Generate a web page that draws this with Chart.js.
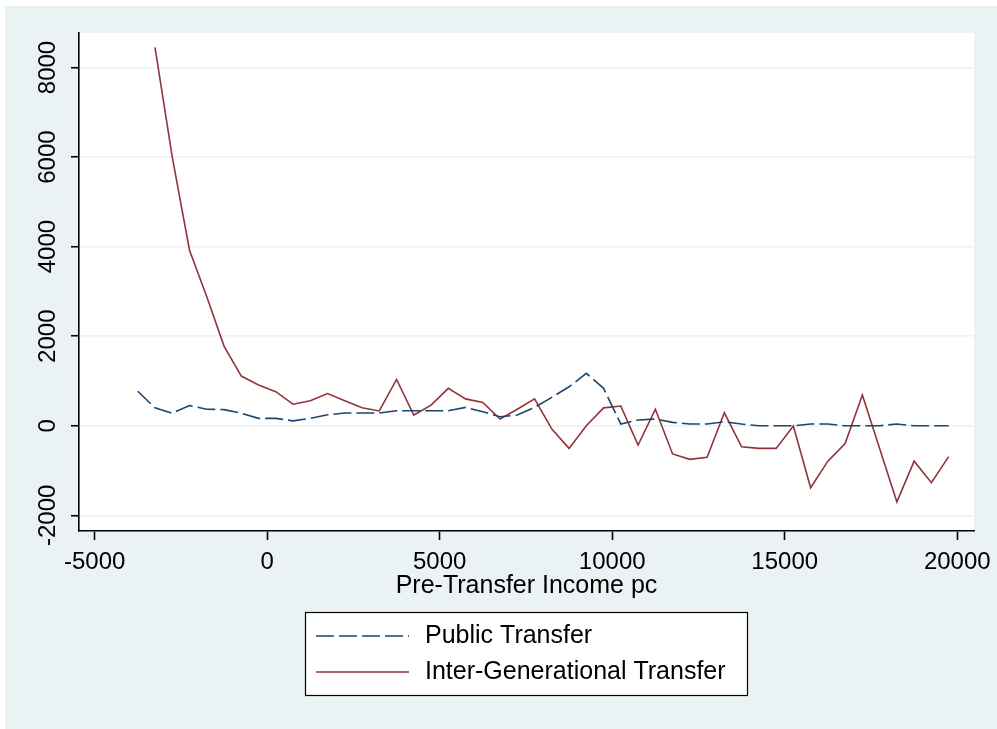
<!DOCTYPE html>
<html>
<head>
<meta charset="utf-8">
<script src="https://cdn.jsdelivr.net/npm/chart.js@4/dist/chart.umd.min.js"></script>
<style>
  html, body { margin: 0; padding: 0; background: #ffffff; }
  canvas { display: block; }
</style>
</head>
<body>
<canvas id="c" width="997" height="729"></canvas>
<script>
// ---- data ----
const incomeBins = [-3750, -3250, -2750, -2250, -1750, -1250, -750, -250,
  250, 750, 1250, 1750, 2250, 2750, 3250, 3750, 4250, 4750,
  5250, 5750, 6250, 6750, 7250, 7750, 8250, 8750, 9250, 9750,
  10250, 10750, 11250, 11750, 12250, 12750, 13250, 13750, 14250, 14750,
  15250, 15750, 16250, 16750, 17250, 17750, 18250, 18750, 19250, 19750];

const publicTransfer = [770, 400, 280, 450, 370, 360, 280, 165,
  165, 110, 165, 245, 285, 285, 285, 335, 335, 335,
  335, 410, 313, 200, 240, 410, 635, 870, 1170, 835,
  40, 127, 150, 76, 38, 38, 89, 38, 0, 0,
  0, 38, 38, 0, 0, 0, 38, 0, 0, 0];

const interGenTransfer = [null, 8450, 6000, 3920, 2880, 1780, 1110, 910,
  760, 480, 560, 720, 560, 400, 330, 1035, 240, 460,
  835, 600, 520, 150, 370, 600, -75, -505, 0, 400,
  440, -430, 370, -630, -750, -705, 290, -470, -505, -505,
  -5, -1385, -790, -395, 685, -510, -1700, -790, -1270, -690];

const xTickValues = [-5000, 0, 5000, 10000, 15000, 20000];
const yTickValues = [-2000, 0, 2000, 4000, 6000, 8000];

const seriesLabels = ['Public Transfer', 'Inter-Generational Transfer'];
const xAxisTitle = 'Pre-Transfer Income pc';

// ---- styling ----
const NAVY = '#1A476F';
const MAROON = '#90353B';
const BG = '#EAF2F3';
const FONT = "'Liberation Sans', Arial, sans-serif";

const toPoints = (ys) => incomeBins.map((x, i) => ({ x: x, y: ys[i] }));
const plainLabel = (v) => String(v);

const bgPlugin = {
  id: 'bgPlugin',
  beforeDraw(chart) {
    const { ctx, chartArea: a, width, height } = chart;
    ctx.save();
    ctx.fillStyle = '#ffffff';
    ctx.fillRect(0, 0, width, height);
    ctx.fillStyle = BG;
    ctx.fillRect(5, 6, width - 5, height - 6);
    ctx.fillStyle = '#ffffff';
    ctx.fillRect(a.left, a.top, a.right - a.left, a.bottom - a.top);
    ctx.restore();
  }
};

const legendPlugin = {
  id: 'boxLegend',
  afterDraw(chart) {
    const { ctx } = chart;
    const bx = 305, by = 612, bw = 442, bh = 83;
    ctx.save();
    ctx.fillStyle = '#ffffff';
    ctx.fillRect(bx, by, bw, bh);
    ctx.strokeStyle = '#000000';
    ctx.lineWidth = 1.2;
    ctx.strokeRect(bx + 0.5, by + 0.5, bw, bh);
    const rows = [636, 672];
    chart.data.datasets.forEach((ds, i) => {
      const y = rows[i];
      ctx.beginPath();
      ctx.strokeStyle = ds.borderColor;
      ctx.lineWidth = ds.borderWidth;
      ctx.setLineDash(ds.borderDash || []);
      ctx.moveTo(316, y);
      ctx.lineTo(409, y);
      ctx.stroke();
      ctx.setLineDash([]);
      ctx.fillStyle = '#000000';
      ctx.font = '25px ' + FONT;
      ctx.textBaseline = 'middle';
      ctx.textAlign = 'left';
      ctx.fillText(ds.label, 425, y);
    });
    ctx.restore();
  }
};

new Chart(document.getElementById('c'), {
  type: 'line',
  data: {
    datasets: [
      {
        label: seriesLabels[0],
        data: toPoints(publicTransfer),
        borderColor: NAVY,
        borderWidth: 1.6,
        borderDash: [18, 5],
        pointRadius: 0,
        fill: false,
        tension: 0
      },
      {
        label: seriesLabels[1],
        data: toPoints(interGenTransfer),
        borderColor: MAROON,
        borderWidth: 1.6,
        pointRadius: 0,
        fill: false,
        tension: 0
      }
    ]
  },
  options: {
    responsive: false,
    devicePixelRatio: 1,
    animation: false,
    layout: { padding: { left: 0, top: 33, right: 23, bottom: 0 } },
    plugins: {
      legend: { display: false },
      tooltip: { enabled: false },
      title: { display: false }
    },
    scales: {
      x: {
        type: 'linear',
        position: 'bottom',
        min: -5453,
        max: 20485,
        afterBuildTicks: (s) => { s.ticks = xTickValues.map(v => ({ value: v })); },
        afterFit: (s) => { s.height = 198; s.paddingLeft = 0; s.paddingRight = 0; },
        border: { display: true, color: '#000000', width: 1.6 },
        grid: { drawOnChartArea: false, drawTicks: true, tickLength: 9, tickColor: '#000000', tickWidth: 1.6 },
        ticks: {
          color: '#000000',
          font: { family: FONT, size: 24 },
          padding: 8,
          maxRotation: 0,
          minRotation: 0,
          autoSkip: false,
          callback: plainLabel
        },
        title: {
          display: true,
          text: xAxisTitle,
          color: '#000000',
          font: { family: FONT, size: 25 },
          padding: { top: 0, bottom: 128 }
        }
      },
      y: {
        type: 'linear',
        position: 'left',
        min: -2350,
        max: 8770,
        afterBuildTicks: (s) => { s.ticks = yTickValues.map(v => ({ value: v })); },
        afterFit: (s) => { s.width = 79; s.paddingTop = 0; s.paddingBottom = 0; },
        border: { display: true, color: '#000000', width: 1.6 },
        grid: { color: BG, lineWidth: 1.5, drawTicks: true, tickLength: 8, tickColor: '#000000', tickWidth: 1.6 },
        ticks: {
          color: '#000000',
          font: { family: FONT, size: 24 },
          minRotation: 90,
          maxRotation: 90,
          crossAlign: 'center',
          padding: -8,
          autoSkip: false,
          callback: plainLabel
        }
      }
    }
  },
  plugins: [bgPlugin, legendPlugin]
});
</script>
</body>
</html>
